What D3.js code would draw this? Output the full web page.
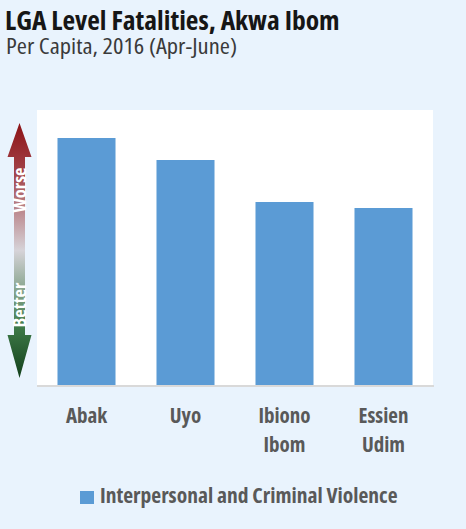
<!DOCTYPE html>
<html><head><meta charset="utf-8">
<script src="https://cdn.jsdelivr.net/npm/d3@7"></script>
<style>
html,body{margin:0;padding:0;background:#e9f3fd;}
svg{display:block;}
text{font-family:"Open Sans","Liberation Sans Narrow",sans-serif;font-stretch:75%;}
</style></head>
<body>
<script>
const categories = [["Abak"], ["Uyo"], ["Ibiono", "Ibom"], ["Essien", "Udim"]];
const values = [2.47, 2.25, 1.83, 1.77];
const seriesName = "Interpersonal and Criminal Violence";
const title = "LGA Level Fatalities, Akwa Ibom";
const subtitle = "Per Capita, 2016 (Apr-June)";

(function(){
const W = 466, H = 529;
const svg = d3.select("body").append("svg").attr("width", W).attr("height", H);
svg.append("rect").attr("width", W).attr("height", H).attr("fill", "#e9f3fd");

const plot = {x0: 37, x1: 433, y0: 110, y1: 385};
svg.append("rect").attr("x", plot.x0).attr("y", plot.y0)
  .attr("width", plot.x1 - plot.x0).attr("height", plot.y1 - plot.y0).attr("fill", "#fff");

const keys = categories.map(c => c.join(" "));
const x = d3.scaleBand().domain(keys).range([plot.x0, plot.x1]).paddingInner(0.414).paddingOuter(0.207);
const y = d3.scaleLinear().domain([0, 2.75]).range([plot.y1, plot.y0]);

svg.append("g").selectAll("rect").data(values).join("rect")
  .attr("x", (d, i) => x(keys[i])).attr("width", x.bandwidth())
  .attr("y", d => y(d)).attr("height", d => y(0) - y(d))
  .attr("fill", "#5b9bd5");

const ax = svg.append("g").attr("transform", `translate(0,${plot.y1})`)
  .call(d3.axisBottom(x).tickSize(0).tickFormat(""));
ax.select(".domain").attr("stroke", "#d9d9d9").attr("stroke-width", 2).attr("d", `M${plot.x0},1H${plot.x1+1}`);

const lab = svg.append("g").selectAll("text").data(categories).join("text")
  .attr("x", (d, i) => x(keys[i]) + x.bandwidth() / 2)
  .attr("y", 423).attr("text-anchor", "middle")
  .attr("fill", "#595959").attr("font-size", 21).attr("font-weight", "bold");
lab.selectAll("tspan").data(d => d).join("tspan")
  .attr("x", function() { return this.parentNode.getAttribute("x"); })
  .attr("dy", (d, i) => i === 0 ? 0 : 29).text(d => d);

svg.append("text").attr("x", 5).attr("y", 30).attr("font-size", 27.5).attr("font-weight", "bold")
  .attr("fill", "#161616").text(title);
svg.append("text").attr("x", 6).attr("y", 54).attr("font-size", 22.5)
  .attr("textLength", 231).attr("lengthAdjust", "spacingAndGlyphs")
  .attr("fill", "#3a3a3a").text(subtitle);

const defs = svg.append("defs");
const g = defs.append("linearGradient").attr("id", "ag").attr("x1", 0).attr("x2", 0).attr("y1", 0).attr("y2", 1);
[[0, "#8c1216"], [0.2, "#a3444a"], [0.5, "#d6d3d8"], [0.8, "#3e7a48"], [1, "#123f1a"]]
  .forEach(([o, c]) => g.append("stop").attr("offset", o).attr("stop-color", c));
const cx = 19.5, aTop = 123, aBot = 378, hw = 12, sw = 5.5, hh = 34, hb = 43;
svg.append("path").attr("fill", "url(#ag)")
  .attr("d", `M${cx},${aTop}L${cx+hw},${aTop+hh}L${cx+sw},${aTop+hh}L${cx+sw},${aBot-hb}L${cx+hw},${aBot-hb}L${cx},${aBot}L${cx-hw},${aBot-hb}L${cx-sw},${aBot-hb}L${cx-sw},${aTop+hh}L${cx-hw},${aTop+hh}Z`);
svg.append("text").attr("transform", `translate(${cx+6},190) rotate(-90)`).attr("text-anchor", "middle")
  .attr("fill", "#fff").attr("font-size", 18.5).attr("font-weight", "bold").text("Worse");
svg.append("text").attr("transform", `translate(${cx+6},305) rotate(-90)`).attr("text-anchor", "middle")
  .attr("fill", "#fff").attr("font-size", 18.5).attr("font-weight", "bold").text("Better");

svg.append("rect").attr("x", 80).attr("y", 491).attr("width", 14).attr("height", 13).attr("fill", "#5b9bd5");
svg.append("text").attr("x", 100).attr("y", 503).attr("font-size", 21.5).attr("font-weight", "bold")
  .attr("fill", "#595959").text(seriesName);
})();
</script>
</body></html>
